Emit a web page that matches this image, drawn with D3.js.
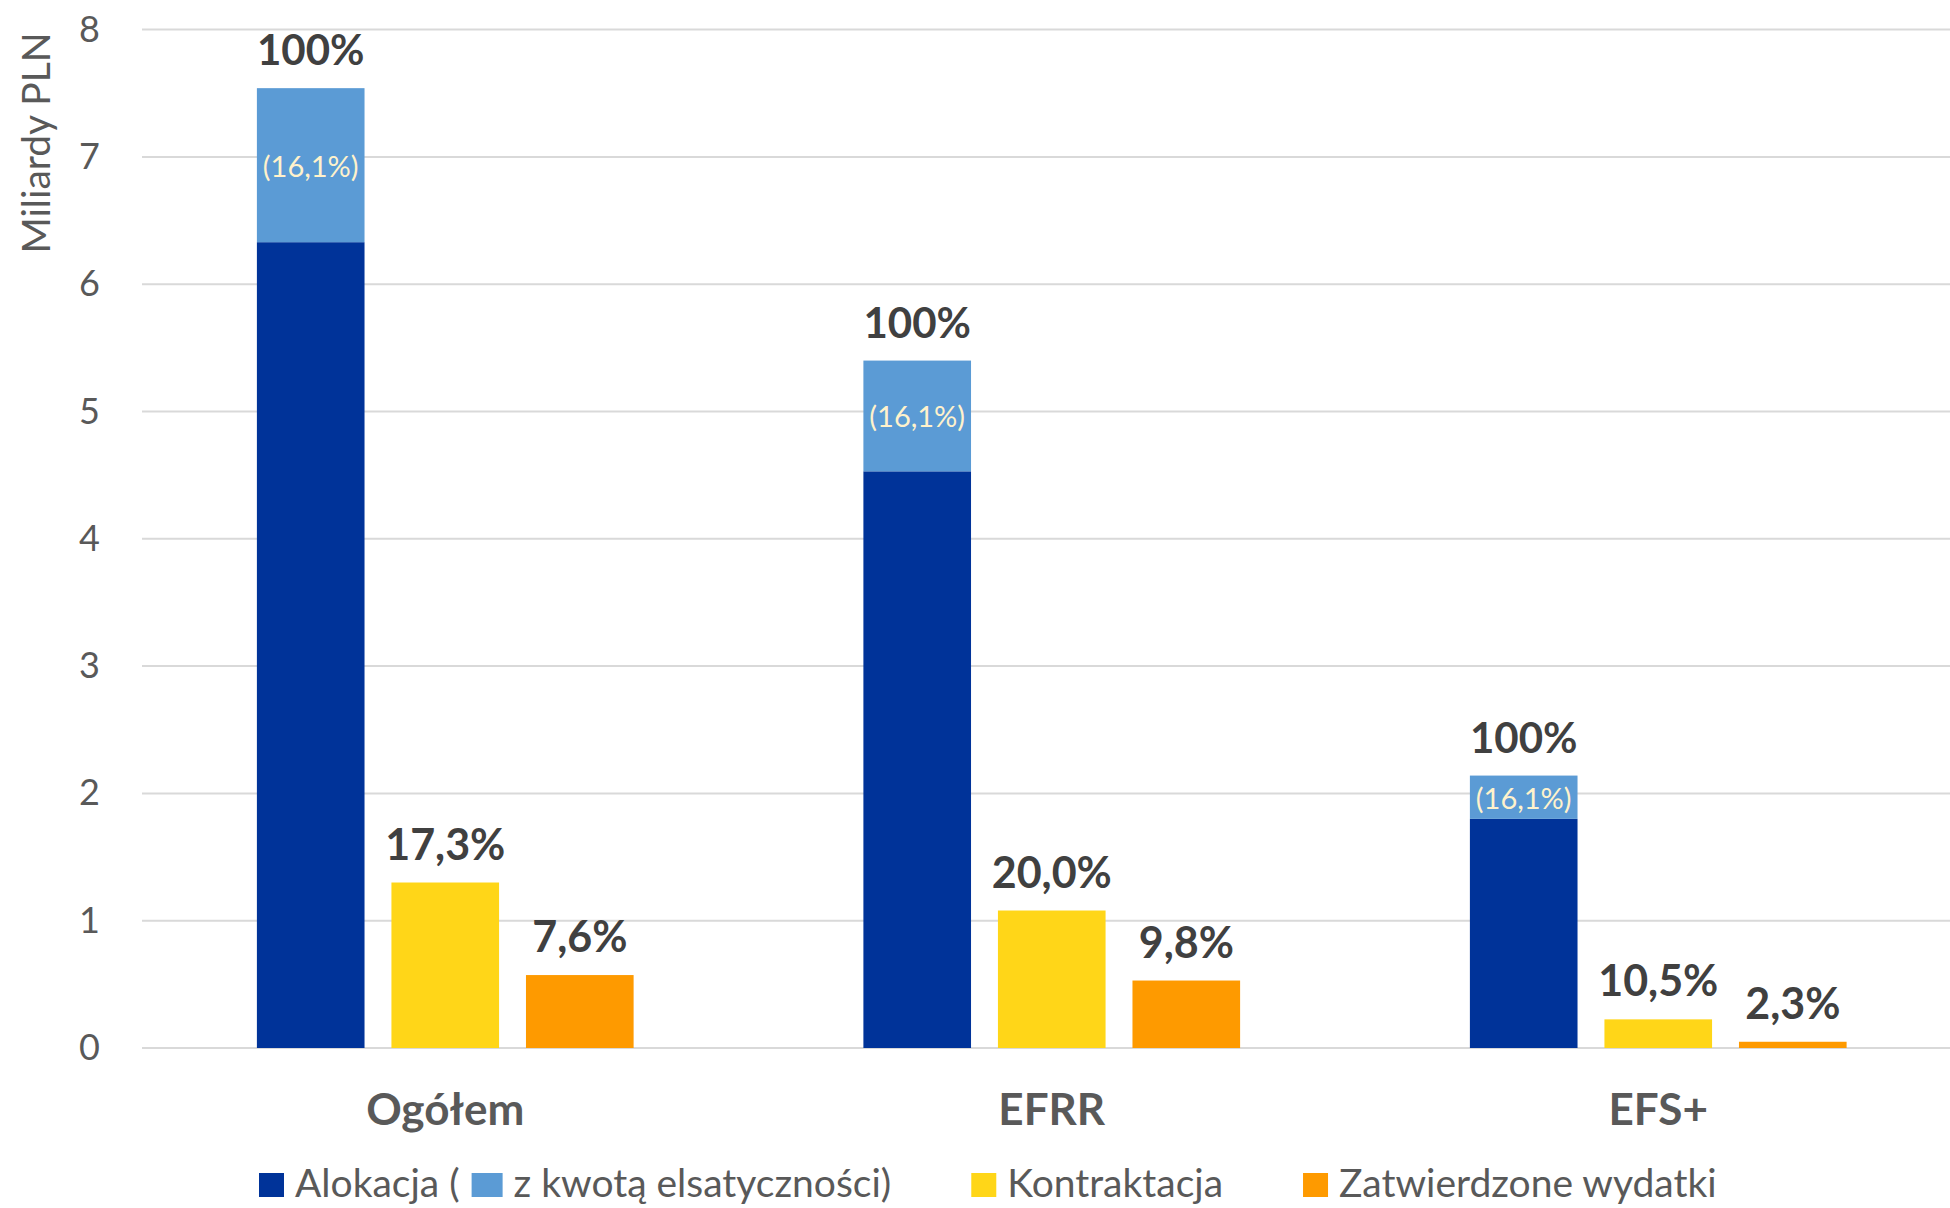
<!DOCTYPE html>
<html><head><meta charset="utf-8">
<script src="https://cdn.jsdelivr.net/npm/d3@7/dist/d3.min.js"></script>
<style>
body{margin:0;background:#fff}
svg{display:block}
text{font-family:Lato,"Open Sans",sans-serif}
</style>
</head><body>
<svg id="chart" width="1950" height="1208"></svg>
<script>
// ---- data ----
const categories = ["Ogółem", "EFRR", "EFS+"];
const allocationBase = [6.33, 4.53, 1.80];      // Alokacja (bez kwoty elastyczności)
const elasticityPart = [1.21, 0.87, 0.34];      // kwota elastyczności
const contracting = [1.30, 1.08, 0.225];        // Kontraktacja
const expenditures = [0.573, 0.53, 0.049];      // Zatwierdzone wydatki
const allocationLabels = ["100%", "100%", "100%"];
const elasticityLabels = ["(16,1%)", "(16,1%)", "(16,1%)"];
const contractingLabels = ["17,3%", "20,0%", "10,5%"];
const expenditureLabels = ["7,6%", "9,8%", "2,3%"];
const yTicks = [0, 1, 2, 3, 4, 5, 6, 7, 8];
const seriesKeys = ["alokacja", "kontraktacja", "wydatki"];
const legendLabels = ["Alokacja (", "z kwotą elsatyczności)", "Kontraktacja", "Zatwierdzone wydatki"];
const yTitle = "Miliardy PLN";

// ---- styles ----
const C_DARK = "#003399", C_LIGHT = "#5B9BD5", C_YELLOW = "#FFD618", C_ORANGE = "#FE9A00";
const legendColors = [C_DARK, C_LIGHT, C_YELLOW, C_ORANGE];
const legendSquareW = [25, 31, 25, 25];

const svg = d3.select("#chart");
const plotLeft = 142, plotRight = 1950, groupStep = 606.5;
const y = d3.scaleLinear().domain([0, 8]).range([1048, 29.6]);
const x0 = d3.scaleBand().domain(categories).range([plotLeft, plotLeft + groupStep * categories.length]).padding(0);
const x1 = d3.scaleBand().domain(seriesKeys).range([0, x0.bandwidth()]).paddingInner(0.2).paddingOuter(0.854);

// gridlines
svg.append("g").selectAll("line").data(yTicks).join("line")
  .attr("x1", plotLeft).attr("x2", plotRight)
  .attr("y1", d => y(d)).attr("y2", d => y(d))
  .attr("stroke", "#D9D9D9").attr("stroke-width", 2);

// y axis labels
const yAxis = svg.append("g").attr("transform", `translate(${plotLeft},0)`)
  .call(d3.axisLeft(y).tickValues(yTicks).tickSize(0).tickPadding(42).tickFormat(d3.format("d")));
yAxis.select(".domain").remove();
yAxis.selectAll("text").attr("font-size", 36).attr("fill", "#595959").style("font-family", "Lato");

// y title
svg.append("text").attr("transform", "translate(35,143) rotate(-90)")
  .attr("text-anchor", "middle").attr("dominant-baseline", "central")
  .attr("font-size", 39).attr("fill", "#595959").text(yTitle);

// table
const rows = categories.map((c, i) => ({cat: c, base: allocationBase[i], elast: elasticityPart[i]}));
const stacked = d3.stack().keys(["base", "elast"])(rows);
const stackColors = {base: C_DARK, elast: C_LIGHT};

// stacked allocation bars
stacked.forEach(layer => {
  svg.append("g").selectAll("rect").data(layer).join("rect")
    .attr("x", d => x0(d.data.cat) + x1("alokacja"))
    .attr("width", x1.bandwidth())
    .attr("y", d => y(d[1]))
    .attr("height", d => y(d[0]) - y(d[1]))
    .attr("fill", stackColors[layer.key]);
});

// contracting & expenditures bars
const simpleSeries = [
  {key: "kontraktacja", values: contracting, color: C_YELLOW, labels: contractingLabels},
  {key: "wydatki", values: expenditures, color: C_ORANGE, labels: expenditureLabels}
];
simpleSeries.forEach(s => {
  svg.append("g").selectAll("rect").data(s.values).join("rect")
    .attr("x", (d, i) => x0(categories[i]) + x1(s.key))
    .attr("width", x1.bandwidth())
    .attr("y", d => y(d))
    .attr("height", d => y(0) - y(d))
    .attr("fill", s.color);
  svg.append("g").selectAll("text").data(s.values).join("text")
    .attr("x", (d, i) => x0(categories[i]) + x1(s.key) + x1.bandwidth() / 2)
    .attr("y", d => y(d) - 23)
    .attr("text-anchor", "middle").attr("font-size", 43).attr("font-weight", 700)
    .attr("fill", "#404040")
    .text((d, i) => s.labels[i]);
});

// allocation top labels
svg.append("g").selectAll("text").data(rows).join("text")
  .attr("x", d => x0(d.cat) + x1("alokacja") + x1.bandwidth() / 2)
  .attr("y", d => y(d.base + d.elast) - 23)
  .attr("text-anchor", "middle").attr("font-size", 42).attr("font-weight", 700)
  .attr("fill", "#404040")
  .text((d, i) => allocationLabels[i]);

// elasticity labels
svg.append("g").selectAll("text").data(rows).join("text")
  .attr("x", d => x0(d.cat) + x1("alokacja") + x1.bandwidth() / 2)
  .attr("y", d => (y(d.base) + y(d.base + d.elast)) / 2)
  .attr("text-anchor", "middle").attr("dominant-baseline", "central")
  .attr("font-size", 29).attr("fill", "#FFF2CC")
  .text((d, i) => elasticityLabels[i]);

// category labels
svg.append("g").selectAll("text").data(categories).join("text")
  .attr("x", d => x0(d) + x0.bandwidth() / 2)
  .attr("y", 1125)
  .attr("text-anchor", "middle").attr("font-size", 44).attr("font-weight", 700)
  .attr("fill", "#595959").text(d => d);

// legend
let lx = 259;
const lg = svg.append("g");
legendLabels.forEach((t, i) => {
  lg.append("rect").attr("x", lx).attr("y", 1173).attr("width", legendSquareW[i]).attr("height", 24).attr("fill", legendColors[i]);
  const tx = lg.append("text").attr("x", lx + legendSquareW[i] + 11).attr("y", 1197)
    .attr("font-size", 39).attr("fill", "#595959").text(t);
  const w = tx.node().getComputedTextLength();
  lx = lx + legendSquareW[i] + 11 + w + (i === 0 ? 12 : 80);
});
</script>
</body></html>
